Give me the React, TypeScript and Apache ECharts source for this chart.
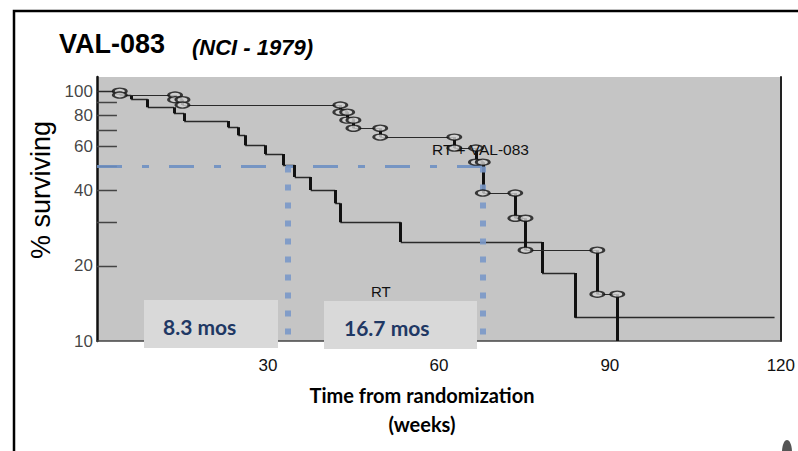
import React, { useEffect, useRef } from 'react';
import * as echarts from 'echarts';

// ---- data ----
// RT arm (Kaplan-Meier step points: week of event, survival after event, %)
const rtWeeks = [0, 4.0, 6.0, 8.9, 13.5, 15.3, 23.0, 24.8, 26.0, 29.5, 32.6, 34.7, 37.5, 41.8, 42.7, 53.3, 78.1, 83.9];
const rtSurvival = [100, 96.5, 92.9, 86.3, 81.7, 76.0, 71.8, 66.7, 60.8, 56.0, 50.6, 45.3, 40.2, 35.6, 29.9, 24.9, 18.7, 12.4];
const rtLastWeek = 118.9;

// RT + VAL-083 arm
const valWeeks = [0, 4.0, 13.7, 15.0, 42.7, 43.9, 45.0, 49.7, 62.7, 66.5, 67.7, 73.4, 75.2, 87.8, 91.3];
const valSurvival = [100, 96.5, 92.5, 88.0, 82.4, 76.6, 71.1, 65.5, 59.2, 52.0, 39.1, 31.0, 23.1, 15.4, 10];

// median survival guide lines
const medianSurvival = 50;
const medianWeeks = [33.5, 67.7];

// axes
const xTickLabels = [30, 60, 90, 120];
const yLabelValues = [100, 80, 60, 40, 20, 10];
const yTickValues = [90, 80, 70, 60, 50, 40, 30, 20];
const yMin = 10;
const yMax = 114;
const xMax = 120;
const yTickLengthWeeks = 3.5;

type Pt = [number, number];

function horizontalSegments(weeks: number[], surv: number[], endWeek: number): Pt[][] {
  const out: Pt[][] = [];
  for (let i = 0; i < weeks.length; i++) {
    const x2 = i + 1 < weeks.length ? weeks[i + 1] : endWeek;
    if (x2 > weeks[i]) out.push([[weeks[i], surv[i]], [x2, surv[i]]]);
  }
  return out;
}
function verticalSegments(weeks: number[], surv: number[]): Pt[][] {
  const out: Pt[][] = [];
  for (let i = 1; i < weeks.length; i++) out.push([[weeks[i], surv[i - 1]], [weeks[i], surv[i]]]);
  return out;
}
function eventMarks(weeks: number[], surv: number[]): Pt[] {
  const out: Pt[] = [];
  for (let i = 1; i < weeks.length; i++) {
    out.push([weeks[i], surv[i - 1]]);
    if (i < weeks.length - 1) out.push([weeks[i], surv[i]]);
  }
  return out;
}

const segs = (list: Pt[][]) => list.map((c) => ({ coords: c }));

export default function App() {
  const ref = useRef<HTMLDivElement>(null);
  useEffect(() => {
    const chart = echarts.init(ref.current!, null, { renderer: 'svg' });
    const lineBase = {
      type: 'lines',
      coordinateSystem: 'cartesian2d',
      polyline: false,
      silent: true,
      effect: { show: false },
    };
    const option: any = {
      animation: false,
      backgroundColor: '#ffffff',
      grid: {
        left: 97,
        right: 10,
        top: 77,
        bottom: 110,
        show: true,
        backgroundColor: '#c5c5c5',
        borderWidth: 0,
      },
      xAxis: {
        type: 'value',
        min: 0,
        max: xMax,
        interval: 30,
        axisLine: { show: true, onZero: false, lineStyle: { color: '#444', width: 1.5 } },
        axisTick: { show: false },
        splitLine: { show: false },
        axisLabel: {
          formatter: (v: number) => (xTickLabels.includes(v) ? String(v) : ''),
          fontSize: 17,
          fontFamily: 'Liberation Sans',
          color: '#111',
          margin: 16,
          showMaxLabel: true,
        },
      },
      yAxis: [
        {
          type: 'log',
          logBase: 10,
          min: yMin,
          max: yMax,
          axisLine: { show: true, lineStyle: { color: '#111', width: 2.5 } },
          axisTick: { show: false },
          axisLabel: { show: false },
          splitLine: { show: false },
        },
        {
          type: 'log',
          logBase: 10,
          min: yMin,
          max: yMax,
          position: 'right',
          axisLine: { show: true, lineStyle: { color: '#222', width: 2 } },
          axisTick: { show: false },
          axisLabel: { show: false },
          splitLine: { show: false },
        },
      ],
      series: [
        // scanned y ticks
        {
          ...lineBase,
          data: segs(yTickValues.map((v) => [[0, v], [yTickLengthWeeks, v]] as Pt[])),
          lineStyle: { color: '#444', width: 1.3, opacity: 1 },
          z: 2,
        },
        // y tick labels
        {
          type: 'scatter',
          data: yLabelValues.map((v) => [0, v]),
          symbolSize: 0.1,
          itemStyle: { color: 'transparent' },
          silent: true,
          clip: false,
          label: {
            show: true,
            position: 'left',
            distance: 4,
            formatter: (p: any) => String(p.value[1]),
            fontSize: 17,
            fontFamily: 'Liberation Sans',
            color: '#111',
          },
          z: 3,
        },
        // RT arm
        {
          ...lineBase,
          data: segs(horizontalSegments(rtWeeks, rtSurvival, rtLastWeek)),
          lineStyle: { color: '#2a2a2a', width: 1.3, opacity: 1 },
          z: 4,
        },
        {
          ...lineBase,
          data: segs(verticalSegments(rtWeeks, rtSurvival)),
          lineStyle: { color: '#111', width: 3, opacity: 1 },
          z: 4,
        },
        // RT + VAL-083 arm
        {
          ...lineBase,
          data: segs(horizontalSegments(valWeeks, valSurvival, valWeeks[valWeeks.length - 1])),
          lineStyle: { color: '#2a2a2a', width: 1.2, opacity: 1 },
          z: 4,
        },
        {
          ...lineBase,
          data: segs(verticalSegments(valWeeks, valSurvival)),
          lineStyle: { color: '#111', width: 3, opacity: 1 },
          z: 4,
        },
        // median guide lines
        {
          ...lineBase,
          data: segs([[[0, medianSurvival], [medianWeeks[1], medianSurvival]]]),
          lineStyle: { color: '#6d8fc2', width: 3, type: [25, 20, 7, 20], opacity: 0.9 },
          z: 5,
        },
        {
          ...lineBase,
          data: segs(medianWeeks.map((w) => [[w, medianSurvival], [w, yMin]] as Pt[])),
          lineStyle: { color: '#7a98c8', width: 6, type: [6, 12], opacity: 0.9 },
          z: 5,
        },
        // event ovals on the RT + VAL-083 arm
        {
          type: 'scatter',
          data: eventMarks(valWeeks, valSurvival),
          symbol: 'circle',
          symbolSize: [13, 6],
          silent: true,
          itemStyle: { color: '#d2d2d2', borderColor: '#111', borderWidth: 2 },
          z: 6,
        },
      ],
      graphic: [
        {
          type: 'rect',
          shape: { x: 14, y: 11, width: 830, height: 480 },
          style: { fill: 'none', stroke: '#000', lineWidth: 2.5 },
          z: 1,
        },
        {
          type: 'text',
          x: 59,
          y: 44,
          style: { text: 'VAL-083', font: 'bold 27px "Liberation Sans"', fill: '#000', align: 'left', verticalAlign: 'middle' },
        },
        {
          type: 'text',
          x: 192,
          y: 47,
          style: { text: '(NCI - 1979)', font: 'italic bold 22px "Liberation Sans"', fill: '#000', align: 'left', verticalAlign: 'middle' },
        },
        {
          type: 'text',
          x: 41,
          y: 190,
          rotation: Math.PI / 2,
          style: { text: '% surviving', font: '27px "Liberation Sans"', fill: '#000', align: 'center', verticalAlign: 'middle' },
        },
        {
          type: 'text',
          x: 422,
          y: 395,
          style: { text: 'Time from randomization', font: 'bold 20px Lato', fill: '#000', align: 'center', verticalAlign: 'middle' },
        },
        {
          type: 'text',
          x: 422,
          y: 424,
          style: { text: '(weeks)', font: 'bold 20px Lato', fill: '#000', align: 'center', verticalAlign: 'middle' },
        },
        {
          type: 'rect',
          shape: { x: 144, y: 300, width: 134, height: 48 },
          style: { fill: '#d9d9d9' },
          z: 20,
        },
        {
          type: 'text',
          x: 163,
          y: 326,
          z: 21,
          style: { text: '8.3 mos', font: 'bold 21px Lato', fill: '#1f3864', align: 'left', verticalAlign: 'middle' },
        },
        {
          type: 'rect',
          shape: { x: 324, y: 301, width: 153, height: 48 },
          style: { fill: '#d9d9d9' },
          z: 20,
        },
        {
          type: 'text',
          x: 344,
          y: 327,
          z: 21,
          style: { text: '16.7 mos', font: 'bold 21px Lato', fill: '#1f3864', align: 'left', verticalAlign: 'middle' },
        },
        {
          type: 'text',
          x: 432,
          y: 149,
          z: 22,
          style: { text: 'RT + VAL-083', font: '15.5px "Liberation Sans"', fill: '#111', align: 'left', verticalAlign: 'middle' },
        },
        {
          type: 'text',
          x: 371,
          y: 291,
          z: 22,
          style: { text: 'RT', font: '15px "Liberation Sans"', fill: '#111', align: 'left', verticalAlign: 'middle' },
        },
        {
          type: 'ellipse',
          shape: { cx: 787, cy: 452, rx: 5, ry: 12 },
          style: { fill: '#555' },
        },
      ],
    };
    chart.setOption(option);
    return () => chart.dispose();
  }, []);
  return (
    <div
      ref={ref}
      style={{ position: 'absolute', left: 0, top: 0, width: 798, height: 451, background: '#fff' }}
    />
  );
}
